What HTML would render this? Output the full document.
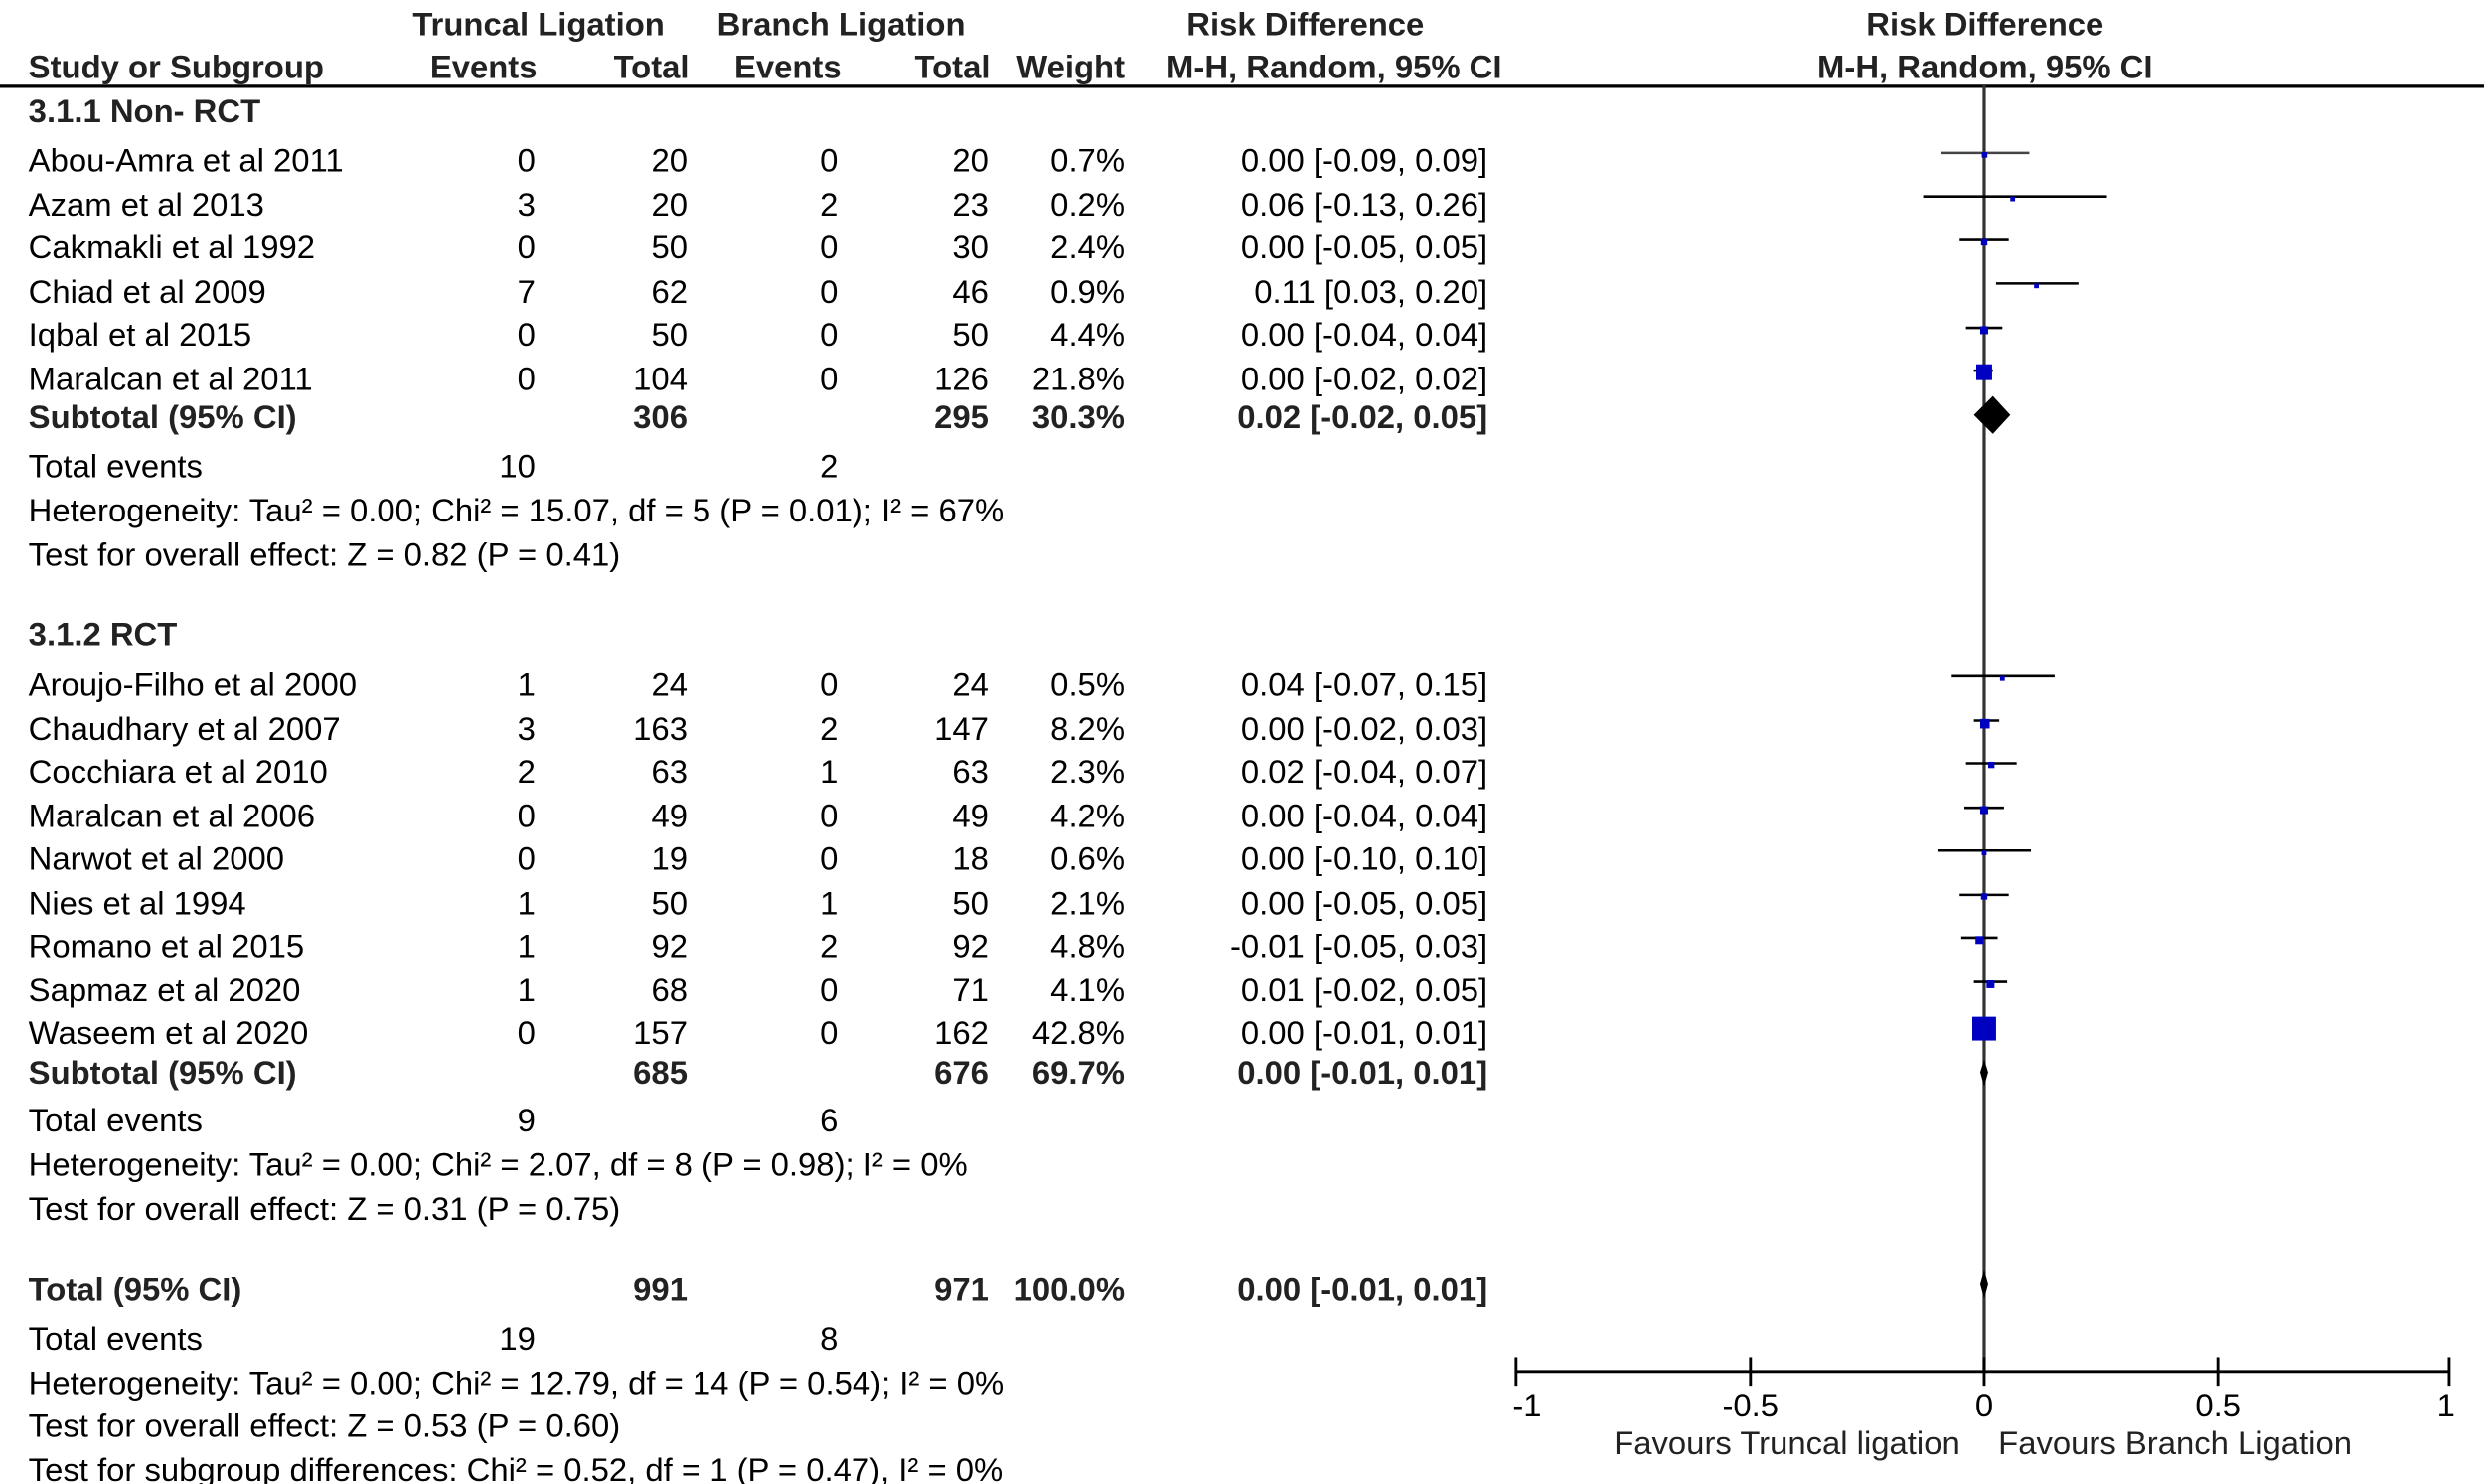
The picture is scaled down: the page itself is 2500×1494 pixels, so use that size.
<!DOCTYPE html>
<html><head><meta charset="utf-8"><style>
html,body{margin:0;padding:0;background:#fff}
svg{display:block}
text{font-family:"Liberation Sans",Arial,sans-serif;font-size:20.6px;fill:#000;dominant-baseline:central}
.b{font-weight:bold;fill:#222}
.r{text-anchor:end}
.m{text-anchor:middle}
</style></head><body>
<svg width="2500" height="1494" viewBox="0 0 1568 937" preserveAspectRatio="none" xmlns="http://www.w3.org/2000/svg">
<g>
<text class="b m" x="340" y="15">Truncal Ligation</text>
<text class="b m" x="531" y="15">Branch Ligation</text>
<text class="b m" x="824" y="15">Risk Difference</text>
<text class="b m" x="1253" y="15">Risk Difference</text>
<text class="b" x="18" y="42">Study or Subgroup</text>
<text class="b r" x="339" y="42">Events</text>
<text class="b r" x="435" y="42">Total</text>
<text class="b r" x="531" y="42">Events</text>
<text class="b r" x="625" y="42">Total</text>
<text class="b r" x="710" y="42">Weight</text>
<text class="b r" x="948" y="42">M-H, Random, 95% CI</text>
<text class="b m" x="1253" y="42">M-H, Random, 95% CI</text>
<text class="b" x="18" y="70">3.1.1 Non- RCT</text>

<text x="18" y="101">Abou-Amra et al 2011</text><text class="r" x="338" y="101">0</text><text class="r" x="434" y="101">20</text><text class="r" x="529" y="101">0</text><text class="r" x="624" y="101">20</text><text class="r" x="710" y="101">0.7%</text><text class="r" x="939" y="101">0.00 [-0.09, 0.09]</text>
<text x="18" y="129">Azam et al 2013</text><text class="r" x="338" y="129">3</text><text class="r" x="434" y="129">20</text><text class="r" x="529" y="129">2</text><text class="r" x="624" y="129">23</text><text class="r" x="710" y="129">0.2%</text><text class="r" x="939" y="129">0.06 [-0.13, 0.26]</text>
<text x="18" y="156">Cakmakli et al 1992</text><text class="r" x="338" y="156">0</text><text class="r" x="434" y="156">50</text><text class="r" x="529" y="156">0</text><text class="r" x="624" y="156">30</text><text class="r" x="710" y="156">2.4%</text><text class="r" x="939" y="156">0.00 [-0.05, 0.05]</text>
<text x="18" y="184">Chiad et al 2009</text><text class="r" x="338" y="184">7</text><text class="r" x="434" y="184">62</text><text class="r" x="529" y="184">0</text><text class="r" x="624" y="184">46</text><text class="r" x="710" y="184">0.9%</text><text class="r" x="939" y="184">0.11 [0.03, 0.20]</text>
<text x="18" y="211">Iqbal et al 2015</text><text class="r" x="338" y="211">0</text><text class="r" x="434" y="211">50</text><text class="r" x="529" y="211">0</text><text class="r" x="624" y="211">50</text><text class="r" x="710" y="211">4.4%</text><text class="r" x="939" y="211">0.00 [-0.04, 0.04]</text>
<text x="18" y="239">Maralcan et al 2011</text><text class="r" x="338" y="239">0</text><text class="r" x="434" y="239">104</text><text class="r" x="529" y="239">0</text><text class="r" x="624" y="239">126</text><text class="r" x="710" y="239">21.8%</text><text class="r" x="939" y="239">0.00 [-0.02, 0.02]</text>
<text class="b" x="18" y="263">Subtotal (95% CI)</text><text class="b r" x="434" y="263">306</text><text class="b r" x="624" y="263">295</text><text class="b r" x="710" y="263">30.3%</text><text class="b r" x="939" y="263">0.02 [-0.02, 0.05]</text>
<text x="18" y="294">Total events</text><text class="r" x="338" y="294">10</text><text class="r" x="529" y="294">2</text>
<text x="18" y="322">Heterogeneity: Tau² = 0.00; Chi² = 15.07, df = 5 (P = 0.01); I² = 67%</text>
<text x="18" y="350">Test for overall effect: Z = 0.82 (P = 0.41)</text>

<text class="b" x="18" y="400">3.1.2 RCT</text>
<text x="18" y="432">Aroujo-Filho et al 2000</text><text class="r" x="338" y="432">1</text><text class="r" x="434" y="432">24</text><text class="r" x="529" y="432">0</text><text class="r" x="624" y="432">24</text><text class="r" x="710" y="432">0.5%</text><text class="r" x="939" y="432">0.04 [-0.07, 0.15]</text>
<text x="18" y="460">Chaudhary et al 2007</text><text class="r" x="338" y="460">3</text><text class="r" x="434" y="460">163</text><text class="r" x="529" y="460">2</text><text class="r" x="624" y="460">147</text><text class="r" x="710" y="460">8.2%</text><text class="r" x="939" y="460">0.00 [-0.02, 0.03]</text>
<text x="18" y="487">Cocchiara et al 2010</text><text class="r" x="338" y="487">2</text><text class="r" x="434" y="487">63</text><text class="r" x="529" y="487">1</text><text class="r" x="624" y="487">63</text><text class="r" x="710" y="487">2.3%</text><text class="r" x="939" y="487">0.02 [-0.04, 0.07]</text>
<text x="18" y="515">Maralcan et al 2006</text><text class="r" x="338" y="515">0</text><text class="r" x="434" y="515">49</text><text class="r" x="529" y="515">0</text><text class="r" x="624" y="515">49</text><text class="r" x="710" y="515">4.2%</text><text class="r" x="939" y="515">0.00 [-0.04, 0.04]</text>
<text x="18" y="542">Narwot et al 2000</text><text class="r" x="338" y="542">0</text><text class="r" x="434" y="542">19</text><text class="r" x="529" y="542">0</text><text class="r" x="624" y="542">18</text><text class="r" x="710" y="542">0.6%</text><text class="r" x="939" y="542">0.00 [-0.10, 0.10]</text>
<text x="18" y="570">Nies et al 1994</text><text class="r" x="338" y="570">1</text><text class="r" x="434" y="570">50</text><text class="r" x="529" y="570">1</text><text class="r" x="624" y="570">50</text><text class="r" x="710" y="570">2.1%</text><text class="r" x="939" y="570">0.00 [-0.05, 0.05]</text>
<text x="18" y="597">Romano et al 2015</text><text class="r" x="338" y="597">1</text><text class="r" x="434" y="597">92</text><text class="r" x="529" y="597">2</text><text class="r" x="624" y="597">92</text><text class="r" x="710" y="597">4.8%</text><text class="r" x="939" y="597">-0.01 [-0.05, 0.03]</text>
<text x="18" y="625">Sapmaz et al 2020</text><text class="r" x="338" y="625">1</text><text class="r" x="434" y="625">68</text><text class="r" x="529" y="625">0</text><text class="r" x="624" y="625">71</text><text class="r" x="710" y="625">4.1%</text><text class="r" x="939" y="625">0.01 [-0.02, 0.05]</text>
<text x="18" y="652">Waseem et al 2020</text><text class="r" x="338" y="652">0</text><text class="r" x="434" y="652">157</text><text class="r" x="529" y="652">0</text><text class="r" x="624" y="652">162</text><text class="r" x="710" y="652">42.8%</text><text class="r" x="939" y="652">0.00 [-0.01, 0.01]</text>
<text class="b" x="18" y="677">Subtotal (95% CI)</text><text class="b r" x="434" y="677">685</text><text class="b r" x="624" y="677">676</text><text class="b r" x="710" y="677">69.7%</text><text class="b r" x="939" y="677">0.00 [-0.01, 0.01]</text>
<text x="18" y="707">Total events</text><text class="r" x="338" y="707">9</text><text class="r" x="529" y="707">6</text>
<text x="18" y="735">Heterogeneity: Tau² = 0.00; Chi² = 2.07, df = 8 (P = 0.98); I² = 0%</text>
<text x="18" y="763">Test for overall effect: Z = 0.31 (P = 0.75)</text>

<text class="b" x="18" y="814">Total (95% CI)</text><text class="b r" x="434" y="814">991</text><text class="b r" x="624" y="814">971</text><text class="b r" x="710" y="814">100.0%</text><text class="b r" x="939" y="814">0.00 [-0.01, 0.01]</text>
<text x="18" y="845">Total events</text><text class="r" x="338" y="845">19</text><text class="r" x="529" y="845">8</text>
<text x="18" y="873">Heterogeneity: Tau² = 0.00; Chi² = 12.79, df = 14 (P = 0.54); I² = 0%</text>
<text x="18" y="900">Test for overall effect: Z = 0.53 (P = 0.60)</text>
<text x="18" y="928">Test for subgroup differences: Chi² = 0.52, df = 1 (P = 0.47), I² = 0%</text>
<text class="m" x="964" y="887">-1</text>
<text class="m" x="1105" y="887">-0.5</text>
<text class="m" x="1252.5" y="887">0</text>
<text class="m" x="1400" y="887">0.5</text>
<text class="m" x="1544" y="887">1</text>
<text class="m" x="1128" y="911" style="fill:#222">Favours Truncal ligation</text>
<text class="m" x="1373" y="911" style="fill:#222">Favours Branch Ligation</text>
</g>
<line x1="0" y1="54.5" x2="1568" y2="54.5" stroke="#000" stroke-width="2"/>

<line x1="1252.5" y1="54" x2="1252.5" y2="866" stroke="#333" stroke-width="2"/>
<g stroke="#000" stroke-width="1.6">
<line x1="1225" y1="96.5" x2="1281" y2="96.5" stroke="#444"/>
<line x1="1214" y1="124" x2="1330" y2="124"/>
<line x1="1237" y1="151.5" x2="1268" y2="151.5"/>
<line x1="1260" y1="179" x2="1312" y2="179"/>
<line x1="1241" y1="207" x2="1264" y2="207"/>
<line x1="1246" y1="234" x2="1258" y2="234"/>
<line x1="1232" y1="427" x2="1297" y2="427"/>
<line x1="1246" y1="455" x2="1262" y2="455"/>
<line x1="1241" y1="482" x2="1273" y2="482"/>
<line x1="1240" y1="510" x2="1265" y2="510"/>
<line x1="1223" y1="537" x2="1282" y2="537"/>
<line x1="1237" y1="565" x2="1268" y2="565"/>
<line x1="1238" y1="592" x2="1261" y2="592"/>
<line x1="1246" y1="620" x2="1267" y2="620"/>
<line x1="1249" y1="647" x2="1256" y2="647"/>
</g>
<g fill="#0000c0">
<rect x="1251" y="96" width="3.5" height="3.5"/>
<rect x="1269" y="124" width="3" height="3"/>
<rect x="1250.5" y="151" width="4" height="4"/>
<rect x="1284" y="179" width="3" height="3"/>
<rect x="1250" y="206" width="5" height="5"/>
<rect x="1247.5" y="230" width="10" height="10"/>
<rect x="1262.5" y="427" width="3" height="3"/>
<rect x="1250" y="454" width="6" height="6"/>
<rect x="1255" y="481" width="4" height="4"/>
<rect x="1250" y="509" width="5" height="5"/>
<rect x="1251" y="537" width="3" height="3"/>
<rect x="1250.5" y="564" width="4" height="4"/>
<rect x="1247" y="591" width="5" height="5"/>
<rect x="1254" y="619" width="5" height="5"/>
<rect x="1245" y="642" width="15" height="15"/>
</g>
<polygon points="1246,262 1258,250 1269,262 1258,274" fill="#000"/>
<polygon points="1250,677 1252.5,669 1255,677 1252.5,686" fill="#000"/>
<polygon points="1250,811 1252.5,802 1255,811 1252.5,820" fill="#000"/>

<g stroke="#000" stroke-width="1.8">
<line x1="957" y1="866" x2="1546" y2="866"/>
<line x1="957" y1="857" x2="957" y2="875"/>
<line x1="1105" y1="857" x2="1105" y2="875"/>
<line x1="1252.5" y1="857" x2="1252.5" y2="875"/>
<line x1="1400" y1="857" x2="1400" y2="875"/>
<line x1="1546" y1="857" x2="1546" y2="875"/>
</g>
</svg>
</body></html>
